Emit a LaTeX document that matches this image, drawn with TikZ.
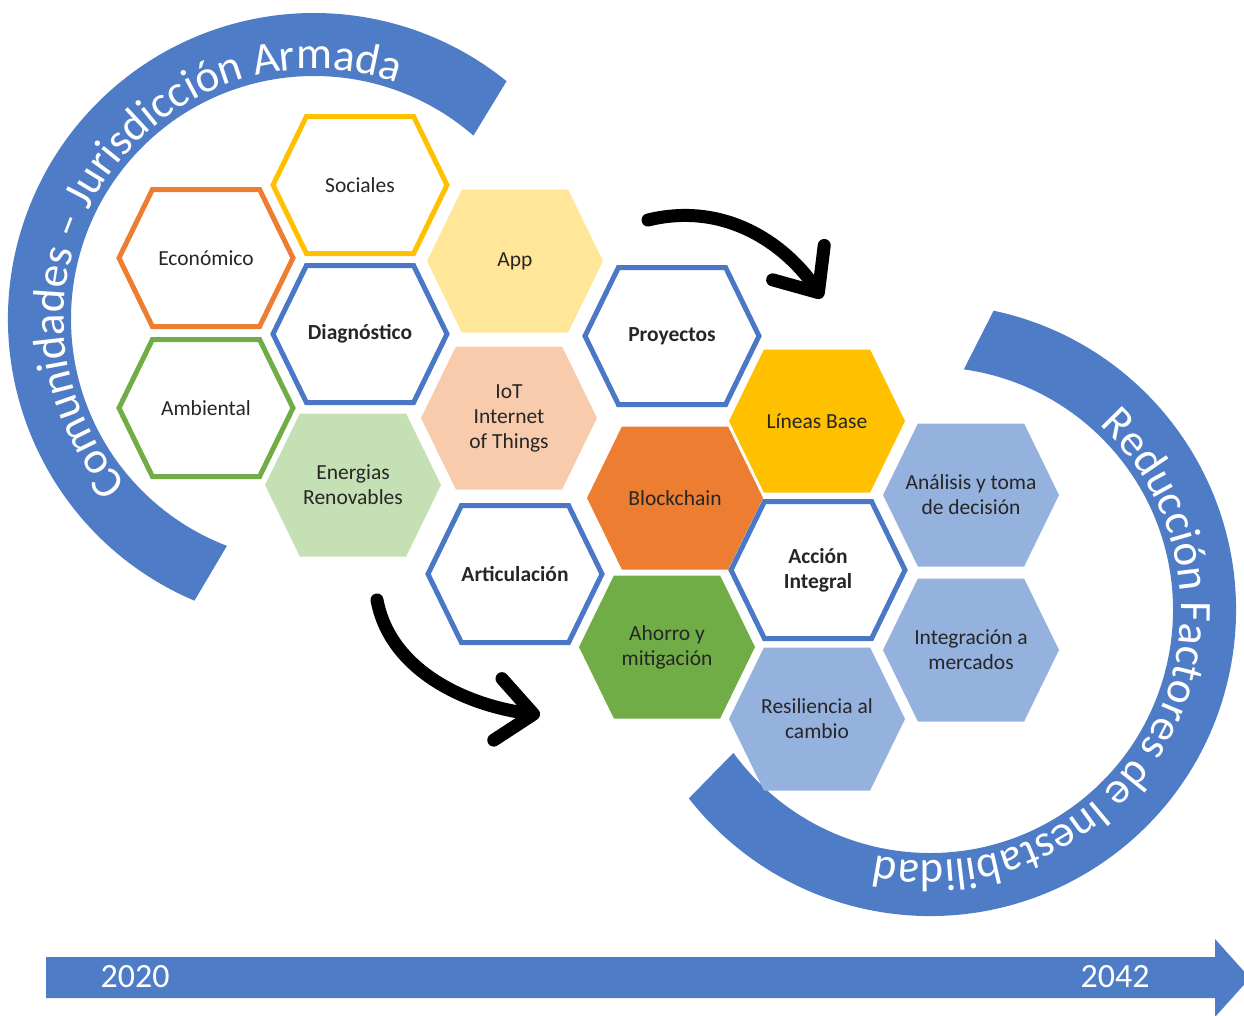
\documentclass[tikz,border=0pt]{standalone}
\usepackage{fontspec}
\setmainfont{Carlito}
\usetikzlibrary{calc,shapes.symbols,arrows.meta,decorations.text}
\definecolor{ringblue}{HTML}{4E7CC7}
\definecolor{hexblue}{HTML}{4A78C6}
\definecolor{hexorange}{HTML}{ED7D31}
\definecolor{hexgold}{HTML}{FFC000}
\definecolor{hexgreen}{HTML}{70AD47}
\definecolor{appyellow}{HTML}{FFE699}
\definecolor{energreen}{HTML}{C5E0B4}
\definecolor{iotpeach}{HTML}{F8CBAD}
\definecolor{paleblue}{HTML}{95B1DE}
\newcommand\arcfont{\color{white}\fontsize{45}{45}\selectfont}

\begin{document}
\begin{tikzpicture}[x=1pt,y=-1pt,
  hex/.style={signal, signal to=east and west, signal pointer angle=128,
    minimum width=176pt, minimum height=143pt, inner ysep=0pt, inner xsep=-15pt, align=center,
    font=\fontsize{21.5}{25}\selectfont, text=black!85},
  hexo/.style={hex, draw=#1, line width=5pt, minimum width=174pt, minimum height=137pt},
  hexf/.style={hex, fill=#1},
  curvy/.style={line width=13pt, line cap=round, -{Straight Barb[length=36pt, width=62pt, round]}},
  yearlbl/.style={text=white, font=\fontsize{34}{34}\selectfont}]
 \useasboundingbox (0,0) rectangle (1244,1015);
 \clip (0,0) rectangle (1244,1015);

 \coordinate (lc) at (314,319);
 \coordinate (rc) at (930,610);
 \fill[ringblue] (lc) ++(113:306) arc (113:309:306) -- ($(lc)+(311:243)$) arc (311:111:243) -- cycle;
 \fill[ringblue] (rc) ++(-78:306) arc (-78:142:306) -- ($(rc)+(144:243)$) arc (144:-82:243) -- cycle;
 \path[decorate, decoration={text along path, text align=center,
   text={|\arcfont|Comunidades – Jurisdicción Armada}}] (lc) ++(118:250) arc (118:310:250);
 \path[decorate, decoration={text along path, text align=center,
   text={|\arcfont|Reducción Factores de Inestabilidad}}] (rc) ++(-78:251) arc (-78:133:251);

 \node (eco) [hexo=hexorange] at (206,258) {Económico};
 \node (soc) [hexo=hexgold] at (360,185) {Sociales};
 \node (amb) [hexo=hexgreen] at (206,408) {Ambiental};
 \node (diag) [hexo=hexblue] at (360,334) {\textbf{Diagnóstico}};
 \node (app) [hexf=appyellow] at (515,261) {App};
 \node (ener) [hexf=energreen] at (353,485) {Energias\\Renovables};
 \node (iot) [hexf=iotpeach] at (509,418) {IoT\\Internet\\of Things};
 \node (art) [hexo=hexblue] at (515,574) {\textbf{Articulación}};
 \node (proy) [hexo=hexblue] at (672,336) {\textbf{Proyectos}};
 \node (block) [hexf=hexorange] at (675,498) {Blockchain};
 \node (lineas) [hexf=hexgold] at (817,421) {Líneas Base};
 \node (accion) [hexo=hexblue] at (818,570) {\textbf{Acción}\\\textbf{Integral}};
 \node (ahorro) [hexf=hexgreen] at (667,647) {Ahorro y\\mitigación};
 \node (anal) [hexf=paleblue] at (971,495) {Análisis y toma\\de decisión};
 \node (integ) [hexf=paleblue] at (971,650) {Integración a\\mercados};
 \node (resil) [hexf=paleblue] at (817,719) {Resiliencia al\\cambio};

 \coordinate (a1s) at (648,220);
 \coordinate (a1e) at (822,298);
 \coordinate (a2s) at (377,600);
 \coordinate (a2e) at (540,715);
 \draw[curvy] (a1s) .. controls (730,200) and (790,250) .. (a1e);
 \draw[curvy] (a2s) .. controls (390,670) and (465,705) .. (a2e);

 \fill[ringblue] (46,957) -- (1215,957) -- (1215,939) -- (1250,978) -- (1215,1017)
   -- (1215,998) -- (46,998) -- cycle;
 \node (y20) [yearlbl] at (135,977) {2020};
 \node (y42) [yearlbl] at (1115,977) {2042};
\end{tikzpicture}
\end{document}
